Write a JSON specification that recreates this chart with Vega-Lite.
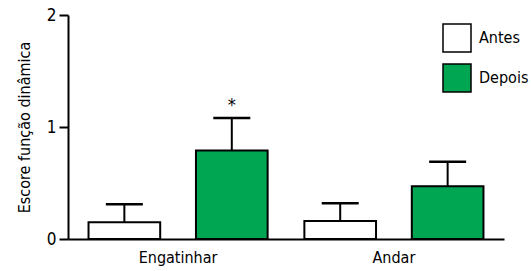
{
  "$schema": "https://vega.github.io/schema/vega-lite/v6.json",
  "width": 436,
  "height": 224,
  "autosize": {"type": "none"},
  "padding": {"left": 68, "top": 15, "right": 27, "bottom": 32},
  "background": "white",
  "config": {
    "font": "DejaVu Sans Condensed",
    "view": {"stroke": null},
    "axisY": {
      "titleFontSize": 16,
      "titleFontWeight": "normal",
      "titleColor": "black",
      "titleX": -44,
      "titleY": 112,
      "titleAlign": "center",
      "titleBaseline": "middle",
      "titleAngle": -90,
      "labelOverlap": false,
      "grid": false,
      "labelFontSize": 17,
      "labelColor": "black",
      "labelPadding": 3,
      "tickSize": 9,
      "tickWidth": 2,
      "tickColor": "black",
      "domainColor": "black",
      "domainWidth": 2,
      "tickCount": 2,
      "format": "d"
    }
  },
  "data": {
    "values": [
      {"grupo": "Engatinhar", "momento": "Antes", "valor": 0.15, "erro": 0.31, "sig": ""},
      {"grupo": "Engatinhar", "momento": "Depois", "valor": 0.79, "erro": 1.08, "sig": "*"},
      {"grupo": "Andar", "momento": "Antes", "valor": 0.16, "erro": 0.32, "sig": ""},
      {"grupo": "Andar", "momento": "Depois", "valor": 0.47, "erro": 0.69, "sig": ""}
    ]
  },
  "encoding": {
    "x": {
      "field": "grupo",
      "type": "nominal",
      "sort": ["Engatinhar", "Andar"],
      "scale": {"paddingInner": 0, "paddingOuter": 0.01},
      "axis": {
        "title": null,
        "labelAngle": 0,
        "labelFontSize": 16,
        "labelColor": "black",
        "ticks": false,
        "labelPadding": 10,
        "domainColor": "black",
        "domainWidth": 2
      }
    },
    "xOffset": {
      "field": "momento",
      "type": "nominal",
      "sort": ["Antes", "Depois"],
      "scale": {"paddingInner": 0.333, "paddingOuter": 0.171}
    }
  },
  "layer": [
    {
      "mark": {"type": "rule", "stroke": "black", "strokeWidth": 2},
      "encoding": {
        "y": {
          "field": "valor",
          "type": "quantitative",
          "scale": {"domain": [0, 2], "nice": false},
          "title": "Escore função dinâmica"
        },
        "y2": {"field": "erro"}
      }
    },
    {
      "mark": {"type": "tick", "color": "black", "size": 37, "thickness": 2.5, "opacity": 1},
      "encoding": {
        "y": {"field": "erro", "type": "quantitative", "title": "Escore função dinâmica"}
      }
    },
    {
      "mark": {"type": "bar", "stroke": "black", "strokeWidth": 2},
      "encoding": {
        "y": {"field": "valor", "type": "quantitative", "title": "Escore função dinâmica"},
        "fill": {
          "field": "momento",
          "type": "nominal",
          "sort": ["Antes", "Depois"],
          "scale": {"domain": ["Antes", "Depois"], "range": ["white", "#00A651"]},
          "legend": {
            "title": null,
            "orient": "none",
            "legendX": 374,
            "legendY": 8,
            "padding": 0,
            "symbolType": "square",
            "symbolSize": 784,
            "symbolStrokeColor": "black",
            "symbolStrokeWidth": 1.5,
            "symbolOpacity": 1,
            "labelFontSize": 16,
            "labelColor": "black",
            "labelOffset": 7,
            "rowPadding": 6
          }
        }
      }
    },
    {
      "mark": {"type": "text", "fontSize": 18, "color": "black", "dy": -12, "baseline": "middle"},
      "encoding": {
        "y": {"field": "erro", "type": "quantitative", "title": "Escore função dinâmica"},
        "text": {"field": "sig"}
      }
    }
  ]
}
